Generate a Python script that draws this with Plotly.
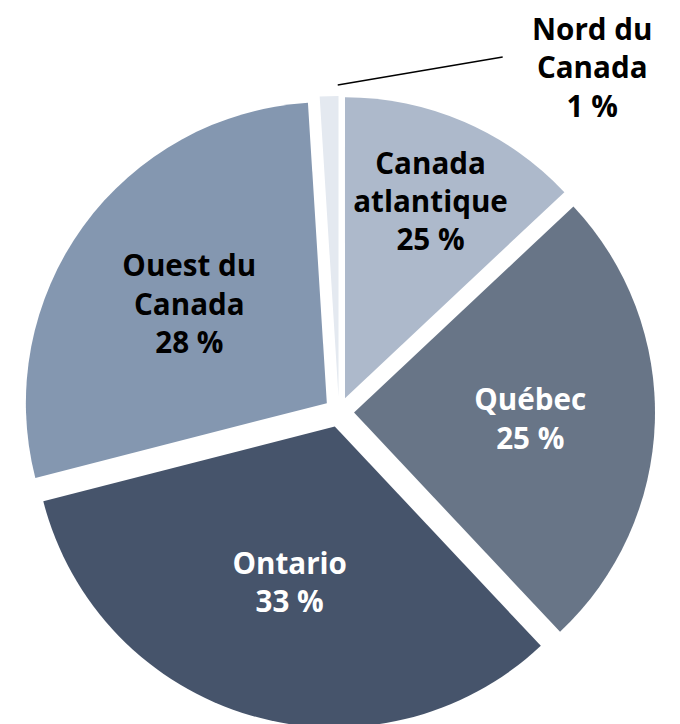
import plotly.graph_objects as go

regions = ["Canada atlantique", "Québec", "Ontario", "Ouest du Canada", "Nord du Canada"]
values = [13, 25, 33, 28, 1]
label_texts = ["Canada<br>atlantique<br>25 %", "Québec<br>25 %", "Ontario<br>33 %", "Ouest du<br>Canada<br>28 %", ""]
nord_label = "Nord du<br>Canada<br>1 %"
colors = ["#adb9cb", "#687587", "#46546b", "#8497b0", "#e4e9f0"]
text_colors = ["#000000", "#ffffff", "#ffffff", "#000000", "#000000"]

FONT = "Open Sans"
FSIZE = 29.6

fig = go.Figure(
    go.Pie(
        labels=regions,
        values=values,
        text=label_texts,
        textinfo="text",
        textposition="inside",
        insidetextorientation="horizontal",
        sort=False,
        direction="clockwise",
        rotation=0,
        pull=[0.05] * len(values),
        marker=dict(colors=colors, line=dict(color="#ffffff", width=0)),
        textfont=dict(family=FONT, size=FSIZE, color=text_colors, weight="bold"),
        hoverinfo="label+value",
        showlegend=False,
    )
)

fig.add_annotation(
    text=nord_label,
    xref="paper", yref="paper",
    x=0.900, y=1.046,
    xanchor="center", yanchor="middle",
    showarrow=False,
    font=dict(family=FONT, size=FSIZE, color="#000000", weight="bold"),
)
fig.add_shape(
    type="line",
    xref="paper", yref="paper",
    x0=0.498, y0=1.0174, x1=0.759, y1=1.0617,
    line=dict(color="#000000", width=1.3),
)

fig.update_layout(
    width=680,
    height=724,
    margin=dict(l=15, r=33, t=88, b=4),
    paper_bgcolor="#ffffff",
    plot_bgcolor="#ffffff",
    uniformtext=dict(minsize=FSIZE, mode="show"),
)

fig.write_html("out.html")
